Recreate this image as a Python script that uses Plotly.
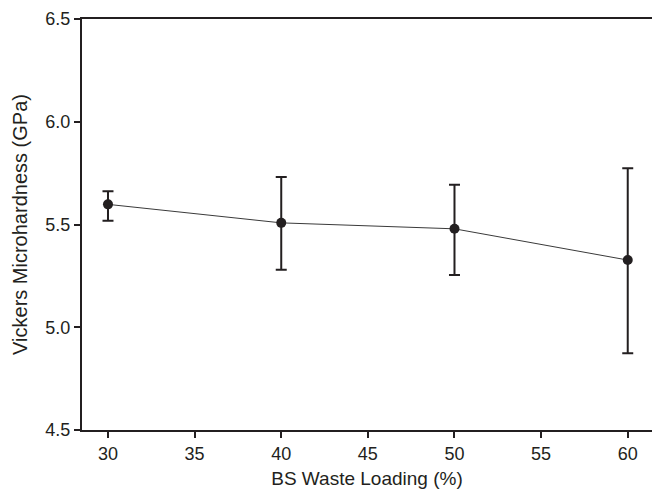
import plotly.graph_objects as go

loading = [30, 40, 50, 60]
hardness = [5.598, 5.508, 5.479, 5.327]
err_upper = [5.662, 5.731, 5.693, 5.774]
err_lower = [5.518, 5.280, 5.254, 4.873]

plus = [u - h for u, h in zip(err_upper, hardness)]
minus = [h - l for l, h in zip(err_lower, hardness)]

ink = "#231f20"
fig = go.Figure()
fig.add_trace(go.Scatter(
    x=loading, y=hardness, mode="lines+markers",
    line=dict(color="#3a3a3a", width=1),
    marker=dict(color=ink, size=10),
    error_y=dict(type="data", symmetric=False, array=plus, arrayminus=minus,
                 color=ink, thickness=2, width=5.5),
    showlegend=False,
))

font = "Liberation Sans, Arial, sans-serif"
fig.update_layout(
    width=652, height=490,
    margin=dict(l=82, r=0, t=19, b=60),
    plot_bgcolor="white", paper_bgcolor="white",
    font=dict(family=font, color=ink, size=18),
    xaxis=dict(range=[28.5, 61.4], tickvals=[30, 35, 40, 45, 50, 55, 60],
               showline=True, linecolor=ink, linewidth=2, mirror=True,
               ticks="outside", ticklen=6, tickwidth=2, tickcolor=ink,
               showgrid=False, zeroline=False, automargin=False,
               tickfont=dict(size=18),
               title=dict(text="BS Waste Loading (%)", font=dict(size=19), standoff=9)),
    yaxis=dict(range=[4.5, 6.5], tickvals=[4.5, 5.0, 5.5, 6.0, 6.5],
               tickformat=".1f",
               showline=True, linecolor=ink, linewidth=2, mirror=False,
               ticks="outside", ticklen=6, tickwidth=2, tickcolor=ink,
               showgrid=False, zeroline=False, automargin=False,
               tickfont=dict(size=18),
               title=dict(text="Vickers Microhardness (GPa)", font=dict(size=20), standoff=12)),
)
fig.write_html(
    "out.html",
    config={"displayModeBar": False},
    post_script="document.body.style.margin='0';document.body.style.overflow='hidden';",
)
